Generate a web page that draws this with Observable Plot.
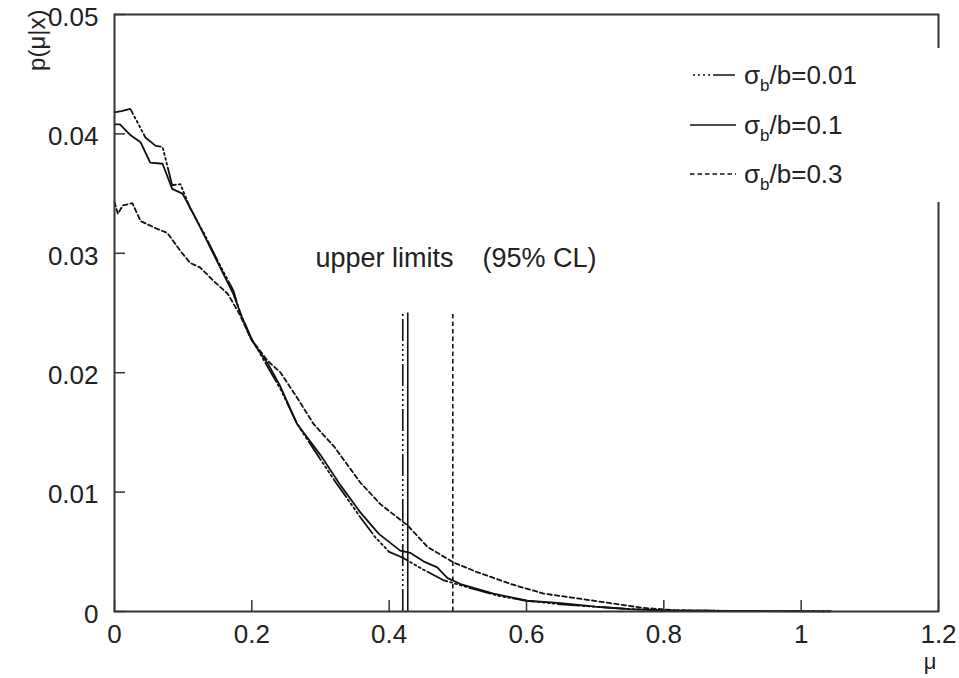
<!DOCTYPE html>
<html><head><meta charset="utf-8">
<script src="https://cdn.jsdelivr.net/npm/d3@7"></script>
<script src="https://cdn.jsdelivr.net/npm/@observablehq/plot@0.6"></script>
<style>
body{margin:0;background:#fff}
svg{font-family:"Liberation Sans",Arial,Helvetica,sans-serif}
</style>
</head><body><div id="chart"></div>
<script>
// --- data ---
const mu001 = [0,0.01,0.023,0.035,0.045,0.06,0.07,0.084,0.096,0.11,0.13,0.15,0.173,0.183,0.2,0.223,0.242,0.266,0.29,0.32,0.358,0.38,0.40,0.42,0.45,0.48,0.528,0.56,0.6,0.65,0.7,0.75,0.8,0.9,1.0,1.043];
const p001  = [0.0418,0.0419,0.0421,0.0408,0.0397,0.0390,0.0389,0.0357,0.0358,0.0338,0.0317,0.0294,0.0269,0.0250,0.0228,0.0205,0.0186,0.0157,0.0136,0.0110,0.0079,0.0062,0.0050,0.0045,0.0035,0.0026,0.0018,0.0013,0.0009,0.0006,0.0004,0.0002,0.0001,0.00005,0.00003,0.00002];

const mu01 = [0,0.008,0.023,0.038,0.052,0.07,0.084,0.099,0.115,0.135,0.154,0.173,0.186,0.2,0.223,0.242,0.266,0.3,0.33,0.358,0.385,0.416,0.431,0.45,0.47,0.485,0.504,0.552,0.601,0.65,0.70,0.75,0.8,0.9,1.0,1.04];
const p01  = [0.0408,0.0408,0.0399,0.0393,0.0376,0.0375,0.0354,0.0350,0.0333,0.0310,0.0288,0.0266,0.0246,0.0227,0.0208,0.0188,0.0157,0.0131,0.0105,0.0083,0.0065,0.0051,0.0049,0.0042,0.0037,0.0028,0.0023,0.0015,0.0009,0.0007,0.0004,0.0002,0.0001,0.00005,0.00002,0.00001];

const mu03 = [0,0.005,0.012,0.026,0.038,0.06,0.077,0.096,0.11,0.125,0.144,0.165,0.183,0.198,0.223,0.242,0.266,0.29,0.32,0.358,0.387,0.427,0.456,0.494,0.528,0.577,0.625,0.674,0.722,0.77,0.82,0.9];
const p03  = [0.0343,0.0333,0.0340,0.0342,0.0327,0.0321,0.0317,0.0302,0.0292,0.0288,0.0277,0.0266,0.0248,0.0229,0.0210,0.0200,0.0179,0.0157,0.0138,0.0108,0.0090,0.0072,0.0054,0.0041,0.0033,0.0023,0.0015,0.0011,0.0007,0.0003,0.0001,0.00003];

const upperLimits = [0.4198, 0.4271, 0.4927];   // 95% CL upper limits (σ=0.01, 0.1, 0.3)
const limitHeight = 0.025;

const xTicks = [0,0.2,0.4,0.6,0.8,1,1.2];
const xTickLabels = ["0","0.2","0.4","0.6","0.8","1","1.2"];
const yTicks = [0,0.01,0.02,0.03,0.04,0.05];
const yTickLabels = ["0","0.01","0.02","0.03","0.04","0.05"];
const seriesLabels = ["0.01","0.1","0.3"];

// --- styles ---
const dashes = ["22,3,2,3,2,3,2,3,2,3", null, "4.5,3"];
const ink = "#111";
const axisInk = "#333";

const toRows = (mu, p) => mu.map((m, i) => ({mu: m, p: p[i]}));
const rows = [toRows(mu001, p001), toRows(mu01, p01), toRows(mu03, p03)];

const W = 959, H = 678, mL = 114, mR = 21, mT = 14, mB = 67;
const fw = W - mL - mR, fh = H - mT - mB;

const plot = Plot.plot({
  width: W, height: H,
  marginLeft: mL, marginRight: mR, marginTop: mT, marginBottom: mB,
  style: {fontFamily: "Liberation Sans, Arial, sans-serif", color: "#222", background: "#fff", overflow: "visible"},
  x: {domain: [0, 1.2]},
  y: {domain: [0, 0.05]},
  marks: [
    // curves
    ...rows.map((r, i) => Plot.line(r, {x: "mu", y: "p", stroke: ink, strokeWidth: 1.8,
        strokeDasharray: dashes[i] ?? undefined})),
    // upper limit lines
    ...upperLimits.map((u, i) => Plot.ruleX([u], {y1: 0, y2: limitHeight, stroke: ink, strokeWidth: 1.6,
        strokeDasharray: dashes[i] ?? undefined})),
    Plot.text(["upper limits"], {x: 0.2927, y: 0.0296, text: d => d, textAnchor: "start", fontSize: 27, fill: "#222"}),
    Plot.text(["(95% CL)"], {x: 0.5359, y: 0.0296, text: d => d, textAnchor: "start", fontSize: 27, fill: "#222"}),
    // inward ticks
    Plot.ruleX(xTicks, {stroke: axisInk, strokeWidth: 1.5, insetTop: fh - 11}),
    Plot.ruleY(yTicks, {stroke: axisInk, strokeWidth: 1.5, insetRight: fw - 11}),
    // tick labels
    Plot.axisX(xTicks, {tickSize: 0, tickPadding: 13, fontSize: 26, label: null,
        tickFormat: (d) => xTickLabels[xTicks.indexOf(d)]}),
    Plot.axisY(yTicks, {tickSize: 0, tickPadding: 16, fontSize: 26, label: null, dy: 3,
        tickFormat: (d) => yTickLabels[yTicks.indexOf(d)]}),
    Plot.frame({stroke: axisInk, strokeWidth: 2}),
    // axis titles
    Plot.text(["p(μ|x)"], {frameAnchor: "top-left", text: d => d, rotate: -90, textAnchor: "end",
        dx: -87, dy: -5, fontSize: 24, fill: "#222"}),
    Plot.text(["μ"], {frameAnchor: "bottom-right", text: d => d, dx: -2, dy: 57, fontSize: 22, fill: "#222"})
  ]
});

document.getElementById("chart").appendChild(plot);

// legend (white box that interrupts the right border, as in the reference)
const svg = d3.select(plot);
const lg = svg.append("g").attr("text-anchor", "start");
lg.append("rect").attr("x", 680).attr("y", 48).attr("width", 270).attr("height", 154).attr("fill", "#fff");
const rowY = [75, 125, 174];
seriesLabels.forEach((lab, i) => {
  const ln = lg.append("line").attr("x1", 690).attr("x2", 736).attr("y1", rowY[i]).attr("y2", rowY[i])
    .attr("stroke", ink).attr("stroke-width", 1.6);
  if (dashes[i]) ln.attr("stroke-dasharray", dashes[i]).attr("stroke-dashoffset", i === 0 ? 22 : 0);
  const t = lg.append("text").attr("x", 744).attr("y", rowY[i]).attr("dy", "0.35em")
    .attr("text-anchor", "start").attr("font-size", 26).attr("fill", "#222");
  t.append("tspan").text("σ");
  t.append("tspan").attr("font-size", 17).attr("dy", 7).text("b");
  t.append("tspan").attr("dy", -7).text("/b=" + lab);
});
</script>
</body></html>
